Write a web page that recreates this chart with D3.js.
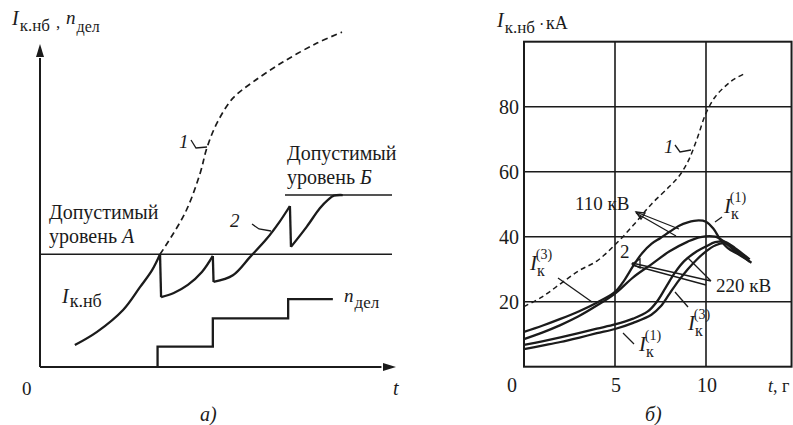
<!DOCTYPE html>
<html><head><meta charset="utf-8">
<script src="https://cdn.jsdelivr.net/npm/d3@7"></script>
<style>
body{margin:0;background:#fff}
svg{display:block}
text{font-family:"Liberation Serif","Times New Roman","DejaVu Serif",serif;fill:#1b1b1b}
</style>
</head><body>
<svg id="c" width="793" height="425"></svg>
<script>
// ---------- Panel а) schematic data ----------
const curve2Seg1 = [[0.99,0.68],[1.62,1.09],[2.36,1.77],[2.84,2.48],[3.18,3.0],[3.41,3.5]];
const curve2Seg2 = [[3.44,2.17],[3.8,2.3],[4.2,2.55],[4.6,2.95],[4.91,3.45]];
const curve2Seg3 = [[4.93,2.64],[5.48,2.85],[5.97,3.42],[6.44,3.98],[6.8,4.5],[7.1,5.0]];
const curve2Seg4 = [[7.13,3.73],[7.58,4.36],[7.95,4.93],[8.18,5.19],[8.35,5.32],[8.6,5.34]];
const curve1Left = [[3.41,3.5],[4.12,4.78],[4.55,6.02],[4.74,6.8],[5.03,7.58],[5.48,8.35],[6.05,8.85],[6.9,9.47],[7.87,10.06],[8.58,10.4]];
const levelA = 3.5, levelB = 5.34, levelBStart = 6.96;
const nDelT = [3.34, 4.91, 7.05, 8.32];
const nDelN = [0.63, 1.51, 2.11];

// ---------- Panel б) data ----------
const yearTicks = [0, 5, 10];
const kaTicks = [20, 40, 60, 80];
const curve1Right = [[0,18.5],[1,21.5],[2,25.5],[3,29.5],[4,32.5],[5,37.5],[6,43.5],[7,50],[8,55.5],[8.5,58.5],[9,63],[9.5,70],[10,78],[10.5,83],[11,86],[11.5,88.3],[12.2,90.4]];
const k110_1 = [[0,10.7],[1,12.6],[2,14.7],[3,17],[4,19.7],[5,23],[5.5,26.5],[6,31],[6.5,35],[7,37.8],[7.5,39.6],[8,41.5],[8.5,43.3],[9,44.4],[9.6,45],[10,44.6],[10.4,42.5],[10.8,39],[11.2,36.5],[11.8,34.5],[12.5,32]];
const k110_3 = [[0,8.5],[1,10.5],[2,12.8],[3,15.5],[4,18.8],[5,22.5],[6,27.5],[7,31.5],[8,35.5],[9,38.5],[9.7,39.9],[10.5,40],[11,38.5],[11.6,35.5],[12.3,33]];
const k220_3 = [[0,6.7],[1,7.8],[2,9],[3,10.3],[4,11.7],[5,13],[6,14.8],[6.8,17],[7.3,20],[7.8,24.5],[8.3,29],[8.8,32.5],[9.5,35.5],[10,37],[10.5,38.3],[11,38.5],[11.6,36.5],[12.4,33]];
const k220_1 = [[0,5.4],[1,6.5],[2,7.6],[3,8.9],[4,10.3],[5,11.6],[6,13.5],[7,16],[7.5,18.5],[8,22.5],[8.5,26.5],[9,30],[9.5,33],[10,35.5],[10.5,37.3],[11,38],[11.6,36],[12.4,32.3]];

const svg = d3.select("#c");
const ink = "#1b1b1b";

// ===== Panel а =====
const xa = d3.scaleLinear().domain([0,10]).range([40,392]);
const ya = d3.scaleLinear().domain([0,10]).range([367,45]);
const la = d3.line().x(d=>xa(d[0])).y(d=>ya(d[1]));
const ga = svg.append("g");

ga.append("line").attr("x1",xa(0)).attr("y1",ya(0)).attr("x2",xa(0)).attr("y2",ya(9.6)).attr("stroke",ink).attr("stroke-width",2);
ga.append("line").attr("x1",xa(0)).attr("y1",ya(0)).attr("x2",xa(9.7)).attr("y2",ya(0)).attr("stroke",ink).attr("stroke-width",2);
ga.append("path").attr("d",`M${xa(0)},${ya(10)-1} l-4,13 l8,0 z`).attr("fill",ink);
ga.append("path").attr("d",`M${xa(10)+4},${ya(0)} l-13,-4 l0,8 z`).attr("fill",ink);

ga.append("line").attr("x1",xa(0)).attr("x2",xa(10)).attr("y1",ya(levelA)).attr("y2",ya(levelA)).attr("stroke",ink).attr("stroke-width",1.6);
ga.append("line").attr("x1",xa(levelBStart)).attr("x2",xa(10)).attr("y1",ya(levelB)).attr("y2",ya(levelB)).attr("stroke",ink).attr("stroke-width",1.6);

const segs = [curve2Seg1, curve2Seg2, curve2Seg3, curve2Seg4];
const lc = d3.line().x(d=>xa(d[0])).y(d=>ya(d[1])).curve(d3.curveCatmullRom);
segs.forEach((s,i)=>{
  ga.append("path").attr("d",lc(s)).attr("fill","none").attr("stroke",ink).attr("stroke-width",2.3);
  if(i<segs.length-1){
    const a=s[s.length-1], b=segs[i+1][0];
    ga.append("path").attr("d",la([a,b])).attr("fill","none").attr("stroke",ink).attr("stroke-width",2.3);
  }
});
ga.append("path").attr("d",lc(curve1Left)).attr("fill","none").attr("stroke",ink).attr("stroke-width",1.7).attr("stroke-dasharray","6,4");

const stepPts = [[nDelT[0],0]];
nDelN.forEach((n,i)=>{ stepPts.push([nDelT[i],n]); stepPts.push([nDelT[i+1],n]); });
ga.append("path").attr("d",la(stepPts)).attr("fill","none").attr("stroke",ink).attr("stroke-width",2.3);

function sub(g,x,y,main,subTxt,opts={}){
  const t=g.append("text").attr("x",x).attr("y",y).attr("font-size",opts.fs||20);
  t.append("tspan").attr("font-style","italic").text(main);
  t.append("tspan").attr("dx",opts.dx||1).attr("dy",opts.dy||5).attr("font-size",opts.sfs||17).text(subTxt);
  return t;
}
sub(ga,12,25,"I","к.нб",{fs:20,sfs:17,dy:6});
ga.append("text").attr("x",56).attr("y",28).attr("font-size",17).text(",");
sub(ga,66,24,"n","дел",{fs:19,sfs:16,dy:8});
ga.append("text").attr("x",22).attr("y",395).attr("font-size",19).text("0");
ga.append("text").attr("x",393).attr("y",395).attr("font-size",20).attr("font-style","italic").text("t");
ga.append("text").attr("x",200).attr("y",421).attr("font-size",20).attr("font-style","italic").text("а)");
ga.append("text").attr("x",49).attr("y",219).attr("font-size",20).text("Допустимый");
const tA2=ga.append("text").attr("x",49).attr("y",243).attr("font-size",20);
tA2.append("tspan").text("уровень ");
tA2.append("tspan").attr("font-style","italic").text("А");
ga.append("text").attr("x",287).attr("y",160).attr("font-size",20).text("Допустимый");
const tB2=ga.append("text").attr("x",287).attr("y",184).attr("font-size",20);
tB2.append("tspan").text("уровень ");
tB2.append("tspan").attr("font-style","italic").text("Б");
sub(ga,62,303,"I","к.нб",{fs:20,sfs:18,dy:4});
sub(ga,344,302,"n","дел",{fs:19,sfs:17,dy:6});
ga.append("text").attr("x",179).attr("y",148).attr("font-size",19).attr("font-style","italic").text("1");
ga.append("path").attr("d","M191,140 L196,148 L207,147").attr("fill","none").attr("stroke",ink).attr("stroke-width",1.3);
ga.append("text").attr("x",230).attr("y",227).attr("font-size",19).attr("font-style","italic").text("2");
ga.append("path").attr("d","M252,224 L259,229 L271,231").attr("fill","none").attr("stroke",ink).attr("stroke-width",1.3);

// ===== Panel б =====
const xb = d3.scaleLinear().domain([0,10]).range([524,706]);
const yb = d3.scaleLinear().domain([0,100]).range([366.7,41.7]);
const gb = svg.append("g");
const xEnd = 14.7;
kaTicks.forEach(v=>{
  gb.append("line").attr("x1",xb(0)).attr("x2",xb(xEnd)).attr("y1",yb(v)).attr("y2",yb(v)).attr("stroke",ink).attr("stroke-width",1.6);
});
yearTicks.filter(v=>v>0).forEach(v=>{
  gb.append("line").attr("x1",xb(v)).attr("x2",xb(v)).attr("y1",yb(0)).attr("y2",yb(100)).attr("stroke",ink).attr("stroke-width",1.6);
});
gb.append("rect").attr("x",xb(0)).attr("y",yb(100)).attr("width",xb(xEnd)-xb(0)).attr("height",yb(0)-yb(100)).attr("fill","none").attr("stroke",ink).attr("stroke-width",2);

yearTicks.forEach(v=>{
  gb.append("text").attr("x",xb(v)+(v===0?-12:1)).attr("y",392).attr("text-anchor","middle").attr("font-size",20).text(v);
});
kaTicks.forEach(v=>{
  gb.append("text").attr("x",519).attr("y",yb(v)+7).attr("text-anchor","end").attr("font-size",20).text(v);
});
const tt=gb.append("text").attr("x",768).attr("y",392).attr("font-size",18);
tt.append("tspan").attr("font-style","italic").text("t");
tt.append("tspan").text(", г");
sub(gb,497,27,"I","к.нб",{fs:20,sfs:17,dy:6});
gb.append("text").attr("x",539).attr("y",30).attr("font-size",16).text("·");
gb.append("text").attr("x",546).attr("y",29).attr("font-size",18).text("кА");
gb.append("text").attr("x",645).attr("y",421).attr("font-size",20).attr("font-style","italic").text("б)");

const lb = d3.line().x(d=>xb(d[0])).y(d=>yb(d[1])).curve(d3.curveCatmullRom);
gb.append("path").attr("d",lb(curve1Right)).attr("fill","none").attr("stroke",ink).attr("stroke-width",1.5).attr("stroke-dasharray","5,3.5");
[k110_1,k110_3,k220_3,k220_1].forEach(c=>{
  gb.append("path").attr("d",lb(c)).attr("fill","none").attr("stroke",ink).attr("stroke-width",2.3);
});

function supsub(g,x,y,sup){
  const t=g.append("text").attr("x",x).attr("y",y).attr("font-size",21);
  t.append("tspan").attr("font-style","italic").text("I");
  t.append("tspan").attr("dy",6).attr("font-size",16).text("к");
  t.append("tspan").attr("dx",-9).attr("dy",-17).attr("font-size",14).text("("+sup+")");
}
gb.append("text").attr("x",664).attr("y",153).attr("font-size",19).attr("font-style","italic").text("1");
gb.append("path").attr("d","M675,145 L680,152 L691,150").attr("fill","none").attr("stroke",ink).attr("stroke-width",1.3);
gb.append("text").attr("x",575).attr("y",210).attr("font-size",19).text("110 кВ");
gb.append("path").attr("d","M636,212 L679,229 M636,213 L676,236").attr("fill","none").attr("stroke",ink).attr("stroke-width",1.3);
gb.append("path").attr("d","M636,212 l9,1 l-4,6 z").attr("fill","none").attr("stroke",ink).attr("stroke-width",1.3);
gb.append("text").attr("x",620).attr("y",258).attr("font-size",19).text("2");
gb.append("text").attr("x",716).attr("y",292).attr("font-size",19).text("220 кВ");
gb.append("path").attr("d","M632,263 L711,281 M632,265 L706,285 M688,258 L711,281").attr("fill","none").attr("stroke",ink).attr("stroke-width",1.3);
gb.append("path").attr("d","M632,264 l8,-5 l0,9 z").attr("fill","none").attr("stroke",ink).attr("stroke-width",1.3);
supsub(gb,530,270,"3");
gb.append("line").attr("x1",558).attr("y1",278).attr("x2",592).attr("y2",302).attr("stroke",ink).attr("stroke-width",1.3);
supsub(gb,724,213,"1");
gb.append("line").attr("x1",715).attr("y1",222).attr("x2",722).attr("y2",217).attr("stroke",ink).attr("stroke-width",1.3);
supsub(gb,688,330,"3");
gb.append("line").attr("x1",675).attr("y1",292).attr("x2",688).attr("y2",307).attr("stroke",ink).attr("stroke-width",1.3);
supsub(gb,639,351,"1");
gb.append("line").attr("x1",623).attr("y1",333).attr("x2",634).attr("y2",344).attr("stroke",ink).attr("stroke-width",1.3);
</script>
</body></html>
